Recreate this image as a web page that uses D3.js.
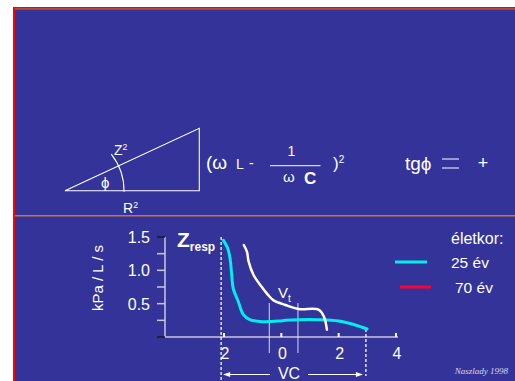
<!DOCTYPE html>
<html>
<head>
<meta charset="utf-8">
<script src="https://cdn.jsdelivr.net/npm/d3@7"></script>
<style>
  html, body { margin: 0; padding: 0; background: #ffffff; }
  svg { display: block; }
  text { font-family: "Liberation Sans", Arial, sans-serif; fill: #ffffff; }
</style>
</head>
<body>
<svg id="chart" width="515" height="381"></svg>
<script>
// Impedance (kPa/L/s) against lung volume (L), two age groups
const young25 = [
  [-2.02, 1.45], [-1.87, 1.33], [-1.79, 1.18], [-1.73, 0.93], [-1.68, 0.73],
  [-1.50, 0.53], [-1.33, 0.34], [-1.10, 0.26], [-0.64, 0.23], [-0.06, 0.24],
  [0.14, 0.25], [0.60, 0.26], [1.30, 0.26], [2.00, 0.24], [2.58, 0.18], [2.99, 0.12]
];
const old70 = [
  [-1.31, 1.38], [-1.20, 1.28], [-1.14, 1.13], [-0.97, 0.93], [-0.68, 0.75],
  [-0.44, 0.62], [-0.27, 0.55], [0.14, 0.48], [0.60, 0.42], [1.30, 0.41],
  [1.48, 0.31], [1.59, 0.11]
];
const yTicks = [0.5, 1.0, 1.5];
const yMinorTicks = [0, 0.25, 0.5, 0.75, 1.0, 1.25, 1.5];
const xTicks = [-2, 0, 2, 4];
const xTickLabels = ["2", "0", "2", "4"];
const vtBounds = [-0.42, 0.58];
const vcBounds = [-2.1, 2.95];
const legendLabels = ["25 év", "70 év"];
const legendTitle = "életkor:";

const svg = d3.select("#chart");
const BLUE = "#333399";

// slide background and frame
svg.append("rect").attr("x", 13).attr("y", 7).attr("width", 502).attr("height", 374).attr("fill", BLUE);
svg.append("rect").attr("x", 13).attr("y", 7).attr("width", 502).attr("height", 1.5).attr("fill", "#ff0000");
svg.append("rect").attr("x", 15).attr("y", 8.5).attr("width", 500).attr("height", 1).attr("fill", "#e07020");
svg.append("rect").attr("x", 13).attr("y", 7).attr("width", 2).attr("height", 374).attr("fill", "#ff0000");
svg.append("rect").attr("x", 15).attr("y", 215).attr("width", 500).attr("height", 1.5).attr("fill", "#d07040");

// ---------- upper half: impedance triangle ----------
const upper = svg.append("g");
const A = [65, 190.7], B = [199.3, 190.7], C = [199.3, 128.3];
upper.append("path")
  .attr("d", `M${A}L${B}L${C}Z`)
  .attr("fill", "none").attr("stroke", "#ffffff").attr("stroke-width", 1.1);
const arcR = 59;
const angA = Math.atan2(157.7 - A[1], 106.7 - A[0]);
upper.append("path")
  .attr("d", `M${A[0] + arcR * Math.cos(angA)},${A[1] + arcR * Math.sin(angA)} A${arcR},${arcR} 0 0 1 ${A[0] + arcR},${A[1] + 1}`)
  .attr("fill", "none").attr("stroke", "#ffffff").attr("stroke-width", 1.1);

function supText(xp, yp, base, sup, size, supSize) {
  const t = upper.append("text").attr("x", xp).attr("y", yp).attr("font-size", size);
  t.append("tspan").text(base);
  t.append("tspan").attr("font-size", supSize || size * 0.62).attr("dy", -size * 0.35).text(sup);
  return t;
}
supText(114, 155, "Z", "2", 14);
supText(123, 213, "R", "2", 14);
upper.append("text").attr("x", 101).attr("y", 188).attr("font-size", 15).text("ϕ");

upper.append("text").attr("x", 206).attr("y", 169).attr("font-size", 19).text("(ω");
upper.append("text").attr("x", 236).attr("y", 169).attr("font-size", 14).text("L");
upper.append("text").attr("x", 249).attr("y", 168).attr("font-size", 14).text("-");
upper.append("text").attr("x", 291.5).attr("y", 156).attr("font-size", 14).attr("text-anchor", "middle").text("1");
upper.append("line").attr("x1", 270).attr("x2", 320.5).attr("y1", 165.7).attr("y2", 165.7)
  .attr("stroke", "#ffffff").attr("stroke-width", 1);
upper.append("text").attr("x", 283).attr("y", 182).attr("font-size", 15).text("ω");
upper.append("text").attr("x", 304).attr("y", 183.5).attr("font-size", 17).attr("font-weight", "bold").text("C");
supText(333, 169, ")", "2", 17, 10);
upper.append("text").attr("x", 405).attr("y", 170).attr("font-size", 19).text("tgϕ");
upper.append("line").attr("x1", 442).attr("x2", 459).attr("y1", 159).attr("y2", 159).attr("stroke", "#ffffff").attr("stroke-width", 1);
upper.append("line").attr("x1", 442).attr("x2", 459).attr("y1", 168).attr("y2", 168).attr("stroke", "#ffffff").attr("stroke-width", 1);
upper.append("text").attr("x", 483).attr("y", 169).attr("font-size", 18).attr("text-anchor", "middle").text("+");

// ---------- lower half: Zresp chart ----------
const x = d3.scaleLinear().domain([-2, 4]).range([224, 396]);
const y = d3.scaleLinear().domain([0, 1.5]).range([337, 237]);
const g = svg.append("g");

// y axis with labelled and minor ticks
g.append("line").attr("x1", 165).attr("x2", 165).attr("y1", y(0)).attr("y2", y(1.5))
  .attr("stroke", "#c8c8dc").attr("stroke-width", 1.5);
g.selectAll(".ytick").data(yMinorTicks).join("line")
  .attr("x1", 157).attr("x2", 165)
  .attr("y1", d => y(d)).attr("y2", d => y(d))
  .attr("stroke", d => (d === 0 || d === 1.5) ? "#1a1a33" : "#c8c8dc")
  .attr("stroke-width", 1.5);
g.selectAll(".ylab").data(yTicks).join("text")
  .attr("x", 150).attr("y", d => y(d) + 6)
  .attr("text-anchor", "end").attr("font-size", 16)
  .text(d => d.toFixed(1));

// x axis
g.append("line").attr("x1", 165).attr("x2", 398).attr("y1", y(0)).attr("y2", y(0))
  .attr("stroke", "#c8c8dc").attr("stroke-width", 1.5);
g.selectAll(".xtick").data(xTicks).join("line")
  .attr("x1", d => x(d)).attr("x2", d => x(d))
  .attr("y1", y(0) - 4).attr("y2", y(0))
  .attr("stroke", "#ffffff").attr("stroke-width", 2);
g.selectAll(".xlab").data(xTicks).join("text")
  .attr("x", d => x(d) + 1).attr("y", 359)
  .attr("text-anchor", "middle").attr("font-size", 16)
  .text((d, i) => xTickLabels[i]);

// axis title
g.append("text").attr("transform", "translate(103,278) rotate(-90)")
  .attr("text-anchor", "middle").attr("font-size", 15).text("kPa  / L / s");

// Zresp label
const z = g.append("text").attr("x", 177).attr("y", 247).attr("font-weight", "bold");
z.append("tspan").attr("font-size", 21).text("Z");
z.append("tspan").attr("font-size", 12).attr("dy", 4).text("resp");

// VC dashed limits and arrows
g.append("line").attr("x1", x(vcBounds[0])).attr("x2", x(vcBounds[0]))
  .attr("y1", 237).attr("y2", 381)
  .attr("stroke", "#ffffff").attr("stroke-width", 1.3).attr("stroke-dasharray", "3,2");
g.append("line").attr("x1", x(vcBounds[1])).attr("x2", x(vcBounds[1]))
  .attr("y1", y(0.12)).attr("y2", 376)
  .attr("stroke", "#ffffff").attr("stroke-width", 1.3).attr("stroke-dasharray", "3,2");
const arrowY = 374.5;
g.append("line").attr("x1", x(vcBounds[0]) + 3).attr("x2", 270).attr("y1", arrowY).attr("y2", arrowY)
  .attr("stroke", "#ffffff").attr("stroke-width", 1);
g.append("line").attr("x1", 308).attr("x2", x(vcBounds[1]) - 4).attr("y1", arrowY).attr("y2", arrowY)
  .attr("stroke", "#ffffff").attr("stroke-width", 1);
g.append("path").attr("d", `M${x(vcBounds[0]) + 2},${arrowY} l7,-2.5 l0,5 Z`).attr("fill", "#ffffff");
g.append("path").attr("d", `M${x(vcBounds[1]) - 3},${arrowY} l-7,-2.5 l0,5 Z`).attr("fill", "#ffffff");
g.append("text").attr("x", 289).attr("y", 379).attr("text-anchor", "middle").attr("font-size", 16).text("VC");

// Vt markers
g.selectAll(".vt").data(vtBounds).join("line")
  .attr("x1", d => x(d)).attr("x2", d => x(d))
  .attr("y1", 303).attr("y2", 353)
  .attr("stroke", "#d8d8e8").attr("stroke-width", 1);
const vt = g.append("text").attr("x", 278).attr("y", 298).attr("font-size", 15);
vt.append("tspan").text("V");
vt.append("tspan").attr("font-size", 10).attr("dy", 4).text("t");

// curves
const line = d3.line().x(d => x(d[0])).y(d => y(d[1])).curve(d3.curveCatmullRom.alpha(0.5));
g.append("path").datum(young25).attr("d", line)
  .attr("fill", "none").attr("stroke", "#00eeee").attr("stroke-width", 3).attr("stroke-linecap", "round");
g.append("path").datum(old70).attr("d", line)
  .attr("fill", "none").attr("stroke", "#ffffff").attr("stroke-width", 2.5).attr("stroke-linecap", "round");

// legend
g.append("text").attr("x", 451).attr("y", 243.5).attr("font-size", 16).text(legendTitle);
const legendColors = ["#00eeee", "#ff0033"];
const legendRows = [{x1: 395, x2: 427, y: 262, tx: 451}, {x1: 400, x2: 431, y: 287, tx: 455}];
g.selectAll(".lg").data(legendLabels).join("g").each(function (d, i) {
  const r = legendRows[i];
  d3.select(this).append("line").attr("x1", r.x1).attr("x2", r.x2).attr("y1", r.y).attr("y2", r.y)
    .attr("stroke", legendColors[i]).attr("stroke-width", 3);
  d3.select(this).append("text").attr("x", r.tx).attr("y", r.y + 5.5).attr("font-size", 15.5).text(d);
});

// credit
g.append("text").attr("x", 508).attr("y", 374).attr("text-anchor", "end")
  .style("font-family", "'Liberation Serif', serif").style("font-style", "italic")
  .style("font-size", "9px").style("fill", "#d8d8e8").text("Naszlady 1998");
</script>
</body>
</html>
